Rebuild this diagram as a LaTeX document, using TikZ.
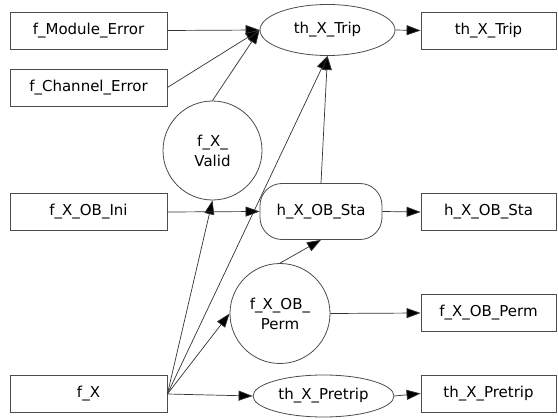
\documentclass[tikz,border=0pt]{standalone}
\usepackage{fontspec}
\setmainfont{DejaVu Sans}
\usetikzlibrary{arrows.meta,shapes.geometric}
\begin{document}
\begin{tikzpicture}[x=1pt,y=-1pt,
  every node/.style={font=\fontsize{15}{20}\selectfont, draw=black!70, line width=0.8pt, inner sep=0pt, align=center},
  box/.style={rectangle, minimum width=157pt, minimum height=37pt},
  rbox/.style={rectangle, minimum width=135pt, minimum height=37pt},
  conn/.style={draw=black!80, line width=0.7pt, -{Triangle[length=14pt,width=10pt,fill=black]}}]
\useasboundingbox (0,0) rectangle (558,420);
% left boxes
\node[box] (me) at (88.5,30.5) {f\_Module\_Error};
\node[box] (ce) at (88.5,87.5) {f\_Channel\_Error};
\node[box] (ini) at (88.5,212) {f\_X\_OB\_Ini};
\node[box] (fx) at (88.5,394) {f\_X};
% middle
\node[ellipse, minimum width=135pt, minimum height=51pt] (trip) at (327.5,30) {th\_X\_Trip};
\node[circle, minimum size=99pt] (valid) at (212.5,150.5) {f\_X\_\\Valid};
\node[rectangle, rounded corners=22pt, minimum width=122pt, minimum height=56pt] (sta) at (321,211.5) {h\_X\_OB\_Sta};
\node[circle, minimum size=100pt] (perm) at (280,313.5) {f\_X\_OB\_\\Perm};
\node[ellipse, minimum width=141pt, minimum height=42pt] (pre) at (323.5,396) {th\_X\_Pretrip};
% right boxes
\node[rbox] (rtrip) at (488.5,30.5) {th\_X\_Trip};
\node[rbox] (rsta) at (488.5,212) {h\_X\_OB\_Sta};
\node[rbox] (rperm) at (488.5,313) {f\_X\_OB\_Perm};
\node[rbox] (rpre) at (488.5,393.5) {th\_X\_Pretrip};
% connectors
\draw[conn] (me.east) -- (trip.west);
\draw[conn] (ce.east) -- (trip.west);
\draw[conn] (valid.north) -- (trip.west);
\draw[conn] (fx.east) -- (valid.south);
\draw[conn] (fx.east) -- (trip.south);
\draw[conn] (sta.north) -- (trip.south);
\draw[conn] (ini.east) -- (sta.west);
\draw[conn] (fx.east) -- (perm.west);
\draw[conn] (fx.east) -- (pre.west);
\draw[conn] (perm.north) -- (sta.south);
\draw[conn] (trip.east) -- (rtrip.west);
\draw[conn] (sta.east) -- (rsta.west);
\draw[conn] (perm.east) -- (rperm.west);
\draw[conn] (pre.east) -- (rpre.west);
\end{tikzpicture}
\end{document}
